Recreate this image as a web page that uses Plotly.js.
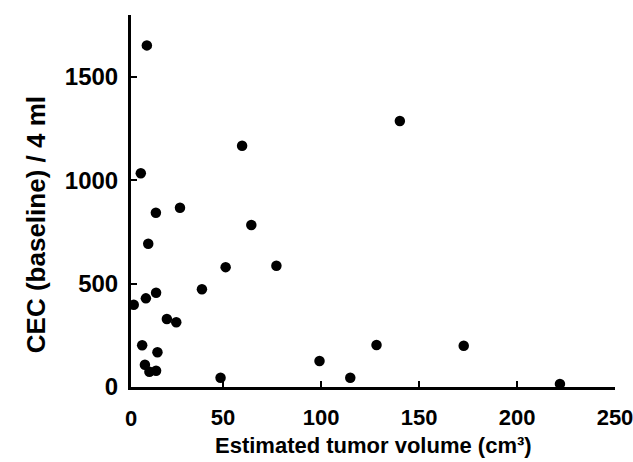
<!DOCTYPE html>
<html><head><meta charset="utf-8">
<script src="https://cdn.plot.ly/plotly-3.0.1.min.js"></script>
<style>html,body{margin:0;padding:0;background:#fff}#c{width:633px;height:462px}</style>
</head><body><div id="c"></div>
<script>
const tumorVolume = [11.1, 59.7, 8.0, 15.7, 28.0, 64.4, 11.8, 51.3, 77.2, 39.2, 15.8, 10.6, 4.4, 21.3, 26.1, 8.7, 16.5, 10.1, 12.4, 15.8, 48.7, 140.2, 128.3, 172.8, 99.2, 114.9, 221.9];
const cecBaseline = [1653, 1167, 1034, 843, 867, 784, 693, 580, 587, 473, 456, 429, 398, 329, 313, 202, 168, 108, 74, 79, 45, 1287, 203, 200, 126, 45, 15];
const xTicks = [0, 50, 100, 150, 200, 250];
const yTicks = [0, 500, 1000, 1500];
const xTitle = 'Estimated tumor volume (cm\u00B3)';
const yTitle = 'CEC (baseline) / 4 ml';

const fontFam = '"Liberation Sans", Arial, sans-serif';
const xMin = 3, xMax = 250;
Plotly.newPlot('c', [{
  x: tumorVolume, y: cecBaseline, type: 'scatter', mode: 'markers',
  marker: {color: '#000', size: 10.5}, cliponaxis: false, hoverinfo: 'none'
}], {
  width: 633, height: 462,
  margin: {l: 131, r: 18, t: 15, b: 75},
  paper_bgcolor: '#fff', plot_bgcolor: '#fff',
  showlegend: false,
  font: {family: fontFam, color: '#000', size: 22, weight: 'bold'},
  xaxis: {
    range: [xMin, xMax], tickvals: xTicks, ticktext: xTicks.map(String),
    showgrid: false, zeroline: false, showline: true, linecolor: '#000', linewidth: 3,
    ticks: 'inside', ticklen: 6, tickwidth: 2, tickcolor: '#000',
    ticklabeloverflow: 'allow',
    tickfont: {family: fontFam, size: 22, weight: 'bold'}, ticklabelstandoff: 9
  },
  yaxis: {
    range: [0, 1800], tickvals: yTicks, ticktext: yTicks.map(String),
    showgrid: false, zeroline: false, showline: true, linecolor: '#000', linewidth: 3,
    ticks: 'inside', ticklen: 6, tickwidth: 2, tickcolor: '#000',
    ticklabeloverflow: 'allow',
    tickfont: {family: fontFam, size: 24, weight: 'bold'}, ticklabelstandoff: 5
  },
  annotations: [{
    x: (xTicks[0] - xMin) / (xMax - xMin), y: 0, xref: 'paper', yref: 'paper', text: String(xTicks[0]),
    showarrow: false, yanchor: 'top', yshift: -17, xshift: -2,
    font: {family: fontFam, size: 22, weight: 'bold', color: '#000'}
  }, {
    x: 0.5, y: 0, xref: 'paper', yref: 'paper', text: xTitle,
    showarrow: false, xanchor: 'center', yanchor: 'top', yshift: -44,
    font: {family: fontFam, size: 22, weight: 'bold', color: '#000'}
  }, {
    x: 0, y: 0.435, xref: 'paper', yref: 'paper', text: yTitle, textangle: -90,
    showarrow: false, xanchor: 'center', yanchor: 'middle', xshift: -95,
    font: {family: fontFam, size: 26, weight: 'bold', color: '#000'}
  }]
}, {staticPlot: true});
</script></body></html>
